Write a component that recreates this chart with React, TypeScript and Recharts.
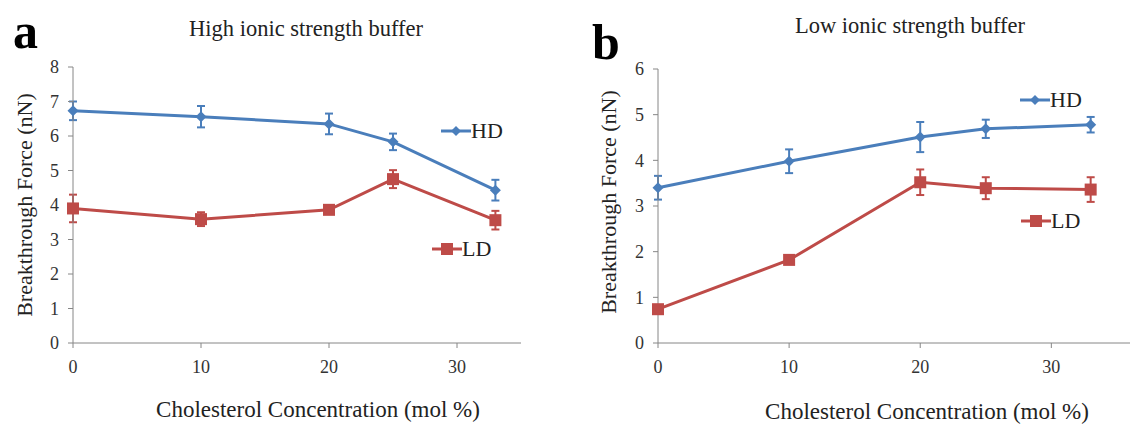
import React from "react";
import { LineChart, Line, XAxis, YAxis, ErrorBar } from "recharts";

const concentrations = [0, 10, 20, 25, 33];

// panel a: high ionic strength buffer
const highHD = [6.73, 6.56, 6.35, 5.83, 4.43];
const highHDErr = [0.27, 0.31, 0.3, 0.24, 0.3];
const highLD = [3.9, 3.59, 3.86, 4.75, 3.56];
const highLDErr = [0.4, 0.2, 0.12, 0.26, 0.27];

// panel b: low ionic strength buffer
const lowHD = [3.4, 3.98, 4.51, 4.69, 4.78];
const lowHDErr = [0.26, 0.26, 0.33, 0.2, 0.17];
const lowLD = [0.74, 1.82, 3.52, 3.39, 3.36];
const lowLDErr = [0.05, 0.05, 0.28, 0.24, 0.27];

const xTicks = [0, 10, 20, 30];
const highYTicks = [0, 1, 2, 3, 4, 5, 6, 7, 8];
const lowYTicks = [0, 1, 2, 3, 4, 5, 6];

const BLUE = "#4A7EBB";
const RED = "#BE4B48";
const AXIS = "#868686";
const SERIF = "'Liberation Serif', 'Times New Roman', serif";

const buildRows = (hd: number[], hdErr: number[], ld: number[], ldErr: number[]) =>
  concentrations.map((c, i) => ({ x: c, hd: hd[i], hdErr: hdErr[i], ld: ld[i], ldErr: ldErr[i] }));

const Diamond = (props: any) => {
  const { cx, cy, index } = props;
  if (cx == null || cy == null) return <g key={`d-${index}`} />;
  const r = 5.5;
  return (
    <path
      key={`d-${index}`}
      d={`M${cx},${cy - r} L${cx + r},${cy} L${cx},${cy + r} L${cx - r},${cy} Z`}
      fill={BLUE}
    />
  );
};

const Square = (props: any) => {
  const { cx, cy, index } = props;
  if (cx == null || cy == null) return <g key={`s-${index}`} />;
  const s = 12;
  return <rect key={`s-${index}`} x={cx - s / 2} y={cy - s / 2} width={s} height={s} fill={RED} />;
};

// tick labels drawn as serif text
const XTick = (props: any) => {
  const { x, y, payload } = props;
  return (
    <text x={x} y={y} dy="0.71em" textAnchor="middle" fontFamily={SERIF} fontSize={18} fill="#333">
      {payload.value}
    </text>
  );
};

const YTick = (props: any) => {
  const { x, y, payload } = props;
  return (
    <text x={x} y={y} dy="0.35em" textAnchor="end" fontFamily={SERIF} fontSize={18} fill="#333">
      {payload.value}
    </text>
  );
};

function Panel({
  data,
  left,
  width,
  yAxisWidth,
  marginTop,
  marginRight,
  xMax,
  yMax,
  yTicks,
}: {
  data: any[];
  left: number;
  width: number;
  yAxisWidth: number;
  marginTop: number;
  marginRight: number;
  xMax: number;
  yMax: number;
  yTicks: number[];
}) {
  return (
    <div style={{ position: "absolute", left, top: 0 }}>
      <LineChart
        width={width}
        height={424}
        data={data}
        margin={{ top: marginTop, right: marginRight, bottom: 51, left: 0 }}
      >
        <XAxis
          dataKey="x"
          type="number"
          domain={[0, xMax]}
          ticks={xTicks}
          height={30}
          stroke={AXIS}
          tickSize={5}
          tickMargin={12}
          tick={XTick}
          allowDecimals={false}
        />
        <YAxis
          type="number"
          domain={[0, yMax]}
          ticks={yTicks}
          width={yAxisWidth}
          stroke={AXIS}
          tickSize={5}
          tickMargin={9}
          tick={YTick}
        />
        <Line
          dataKey="hd"
          stroke={BLUE}
          strokeWidth={3}
          dot={Diamond}
          activeDot={false}
          isAnimationActive={false}
        >
          <ErrorBar dataKey="hdErr" width={4} strokeWidth={2} stroke={BLUE} direction="y" />
        </Line>
        <Line
          dataKey="ld"
          stroke={RED}
          strokeWidth={3}
          dot={Square}
          activeDot={false}
          isAnimationActive={false}
        >
          <ErrorBar dataKey="ldErr" width={4} strokeWidth={2} stroke={RED} direction="y" />
        </Line>
      </LineChart>
    </div>
  );
}

function LegendEntry({ x, y, label, kind }: { x: number; y: number; label: string; kind: "hd" | "ld" }) {
  const color = kind === "hd" ? BLUE : RED;
  return (
    <div style={{ position: "absolute", left: x, top: y - 14, height: 28, display: "flex", alignItems: "center" }}>
      <svg width={30} height={28}>
        <line x1={0} y1={14} x2={30} y2={14} stroke={color} strokeWidth={3} />
        {kind === "hd" ? (
          <path d="M15,9 L20,14 L15,19 L10,14 Z" fill={color} />
        ) : (
          <rect x={9} y={8} width={12} height={12} fill={color} />
        )}
      </svg>
      <span style={{ fontFamily: SERIF, fontSize: 22, color: "#222", lineHeight: "28px" }}>{label}</span>
    </div>
  );
}

const textBase: React.CSSProperties = {
  position: "absolute",
  fontFamily: SERIF,
  color: "#222",
  whiteSpace: "nowrap",
  lineHeight: 1,
};

export default function App() {
  const highRows = buildRows(highHD, highHDErr, highLD, highLDErr);
  const lowRows = buildRows(lowHD, lowHDErr, lowLD, lowLDErr);

  return (
    <div style={{ position: "absolute", left: 0, top: 0, width: 1131, height: 424, background: "#fff", overflow: "hidden" }}>
      <Panel
        data={highRows}
        left={0}
        width={540}
        yAxisWidth={73}
        marginTop={67}
        marginRight={19}
        xMax={35}
        yMax={8}
        yTicks={highYTicks}
      />
      <Panel
        data={lowRows}
        left={580}
        width={551}
        yAxisWidth={78}
        marginTop={69}
        marginRight={1}
        xMax={36}
        yMax={6}
        yTicks={lowYTicks}
      />

      {/* panel letters */}
      <div style={{ ...textBase, left: 13, top: 6, fontSize: 50, fontWeight: "bold", color: "#000" }}>a</div>
      <div style={{ ...textBase, left: 592, top: 17, fontSize: 50, fontWeight: "bold", color: "#000" }}>b</div>

      {/* titles */}
      <div style={{ ...textBase, left: 306, top: 18, fontSize: 22.5, transform: "translateX(-50%)" }}>
        High ionic strength buffer
      </div>
      <div style={{ ...textBase, left: 910, top: 15, fontSize: 22.5, transform: "translateX(-50%)" }}>
        Low ionic strength buffer
      </div>

      {/* axis titles */}
      <div style={{ ...textBase, left: 318, top: 398, fontSize: 23, transform: "translateX(-50%)" }}>
        Cholesterol Concentration (mol %)
      </div>
      <div style={{ ...textBase, left: 927, top: 400, fontSize: 23, transform: "translateX(-50%)" }}>
        Cholesterol Concentration (mol %)
      </div>
      <div
        style={{ ...textBase, left: 25, top: 205, fontSize: 22, transform: "translate(-50%, -50%) rotate(-90deg)" }}
      >
        Breakthrough Force (nN)
      </div>
      <div
        style={{ ...textBase, left: 609, top: 202, fontSize: 22, transform: "translate(-50%, -50%) rotate(-90deg)" }}
      >
        Breakthrough Force (nN)
      </div>

      {/* legends */}
      <LegendEntry x={441} y={131} label="HD" kind="hd" />
      <LegendEntry x={432} y={249} label="LD" kind="ld" />
      <LegendEntry x={1020} y={100} label="HD" kind="hd" />
      <LegendEntry x={1021} y={221} label="LD" kind="ld" />
    </div>
  );
}
